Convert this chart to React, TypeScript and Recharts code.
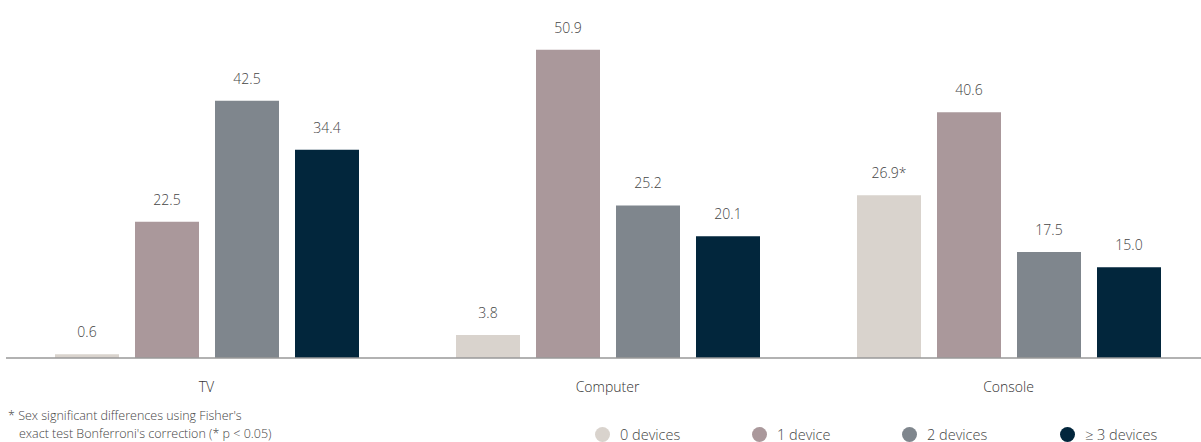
import { Bar, BarChart, LabelList, XAxis, YAxis } from 'recharts';

const categories = ['TV', 'Computer', 'Console'];
const zeroDevices = [0.6, 3.8, 26.9];
const oneDevice = [22.5, 50.9, 40.6];
const twoDevices = [42.5, 25.2, 17.5];
const threeDevices = [34.4, 20.1, 15.0];
const zeroMarks = ['', '', '*'];

const seriesNames = ['0 devices', '1 device', '2 devices', '≥ 3 devices'];
const seriesKeys = ['zero', 'one', 'two', 'three'];
const seriesColors = ['#d9d3cd', '#aa989b', '#7f868d', '#02263c'];

const data = categories.map((name, i) => ({
    name,
    zero: zeroDevices[i],
    one: oneDevice[i],
    two: twoDevices[i],
    three: threeDevices[i],
    zeroLabel: zeroDevices[i].toFixed(1) + zeroMarks[i],
}));

const font = '"Open Sans", "Noto Sans", sans-serif';
const legendX = [603, 760, 910, 1068];

export default function App() {
    return (
        <div style={{ position: 'relative', width: 1201, height: 442, overflow: 'hidden', fontFamily: font }}>
            <style>{`body { margin: 0; overflow: hidden; }`}</style>
            <BarChart
                width={1209}
                height={442}
                data={data}
                margin={{ top: 25, right: 0, left: 6, bottom: 0 }}
                barSize={64}
                barGap={16}
            >
                <XAxis
                    dataKey="name"
                    height={84}
                    tickLine={false}
                    axisLine={{ stroke: '#999', strokeWidth: 1.5 }}
                    tickMargin={18}
                    tick={{ fill: '#333', fontSize: 14, fontFamily: font, fontWeight: 300 }}
                />
                <YAxis hide domain={[0, 55]} />
                {seriesKeys.map((key, i) => (
                    <Bar key={key} dataKey={key} fill={seriesColors[i]} isAnimationActive={false}>
                        <LabelList
                            dataKey={key === 'zero' ? 'zeroLabel' : key}
                            position="top"
                            offset={17}
                            formatter={(v: any) => (typeof v === 'number' ? v.toFixed(1) : v)}
                            style={{ fill: '#444', fontSize: 14, fontFamily: font, fontWeight: 300 }}
                        />
                    </Bar>
                ))}
            </BarChart>
            <div
                style={{
                    position: 'absolute',
                    left: 8,
                    top: 407,
                    fontSize: 12.5,
                    lineHeight: '18px',
                    color: '#444',
                    fontWeight: 300,
                }}
            >
                <div>* Sex significant differences using Fisher's</div>
                <div style={{ paddingLeft: 11 }}>exact test Bonferroni's correction (* p &lt; 0.05)</div>
            </div>
            {seriesNames.map((name, i) => (
                <div
                    key={name}
                    style={{
                        position: 'absolute',
                        left: legendX[i] - 8,
                        top: 425,
                        height: 18,
                        display: 'flex',
                        alignItems: 'center',
                        fontSize: 14.5,
                        color: '#444',
                        fontWeight: 300,
                        whiteSpace: 'nowrap',
                    }}
                >
                    <span
                        style={{
                            width: 15,
                            height: 15,
                            borderRadius: '50%',
                            background: seriesColors[i],
                            display: 'inline-block',
                            marginRight: 10,
                        }}
                    />
                    {name}
                </div>
            ))}
        </div>
    );
}
